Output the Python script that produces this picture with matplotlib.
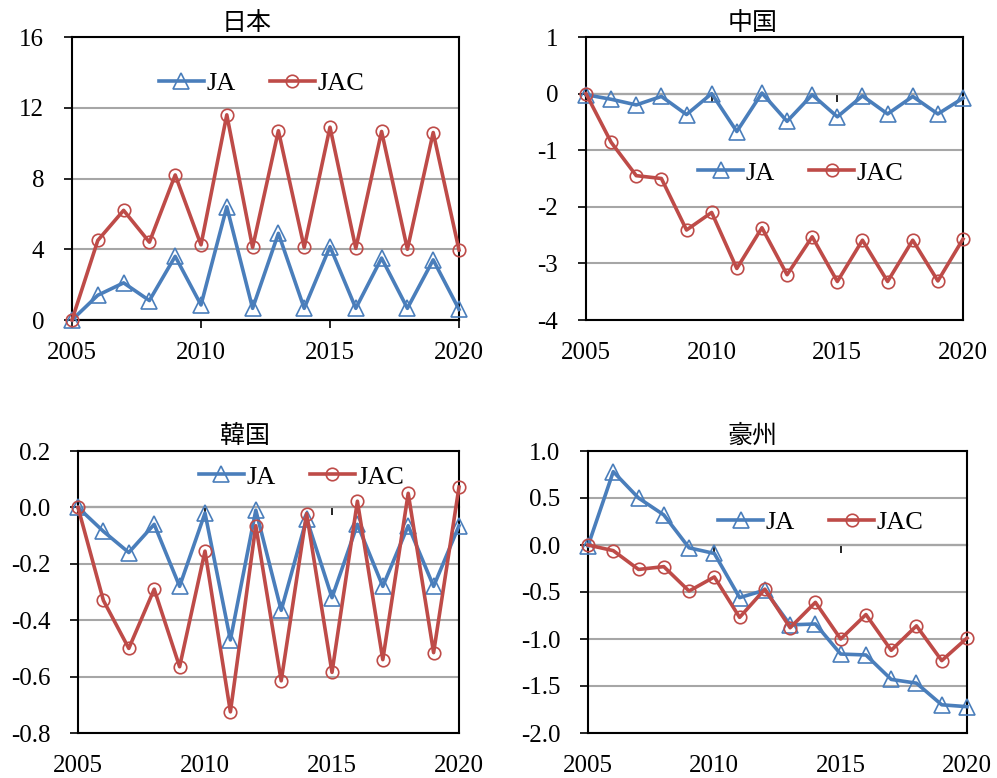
import matplotlib
matplotlib.use("Agg")
import matplotlib.pyplot as plt

plt.rcParams['font.family'] = ['Liberation Serif', 'Noto Sans CJK JP']

years = list(range(2005, 2021))

japan_ja = [0, 1.4, 2.1, 1.1, 3.6, 0.85, 6.4, 0.66, 4.9, 0.66, 4.15, 0.66, 3.5, 0.66, 3.4, 0.6]
japan_jac = [0, 4.5, 6.2, 4.4, 8.2, 4.25, 11.6, 4.1, 10.7, 4.1, 10.9, 4.05, 10.66, 4.0, 10.6, 3.96]

china_ja = [-0.02, -0.1, -0.2, -0.05, -0.37, 0.0, -0.67, 0.01, -0.49, -0.02, -0.41, -0.04, -0.36, -0.05, -0.36, -0.08]
china_jac = [0, -0.86, -1.45, -1.5, -2.41, -2.1, -3.09, -2.37, -3.2, -2.53, -3.32, -2.59, -3.32, -2.59, -3.31, -2.57]

korea_ja = [0, -0.085, -0.16, -0.06, -0.28, -0.02, -0.47, -0.01, -0.365, -0.04, -0.32, -0.06, -0.28, -0.065, -0.28, -0.065]
korea_jac = [0, -0.33, -0.5, -0.29, -0.565, -0.155, -0.725, -0.065, -0.615, -0.022, -0.585, 0.022, -0.54, 0.05, -0.515, 0.072]

aus_ja = [-0.01, 0.78, 0.5, 0.32, -0.03, -0.09, -0.56, -0.48, -0.85, -0.84, -1.16, -1.17, -1.43, -1.47, -1.7, -1.72]
aus_jac = [0, -0.06, -0.26, -0.23, -0.49, -0.34, -0.77, -0.47, -0.88, -0.61, -1.0, -0.74, -1.12, -0.86, -1.23, -0.99]

panels = [
    dict(title='日本', ja=japan_ja, jac=japan_jac, ylim=(0, 16), yticks=[0, 4, 8, 12, 16],
         fmt='{:.0f}', box=[72, 37, 459, 320], tx=247, ty=23, leg=(0.49, 0.837)),
    dict(title='中国', ja=china_ja, jac=china_jac, ylim=(-4, 1), yticks=[-4, -3, -2, -1, 0, 1],
         fmt='{:.0f}', box=[586, 37, 963, 320], tx=753, ty=23, leg=(0.57, 0.52)),
    dict(title='韓国', ja=korea_ja, jac=korea_jac, ylim=(-0.8, 0.2),
         yticks=[-0.8, -0.6, -0.4, -0.2, 0.0, 0.2],
         fmt='{:.1f}', box=[78, 451, 459, 733], tx=245, ty=436, leg=(0.587, 0.908)),
    dict(title='豪州', ja=aus_ja, jac=aus_jac, ylim=(-2.0, 1.0),
         yticks=[-2.0, -1.5, -1.0, -0.5, 0.0, 0.5, 1.0],
         fmt='{:.1f}', box=[588, 451, 967, 733], tx=752, ty=436, leg=(0.615, 0.748)),
]

W, H = 997, 778
fig = plt.figure(figsize=(W / 100, H / 100), dpi=100)

BLUE = '#4A7EBB'
RED = '#BE4B48'
xticks = [2005, 2010, 2015, 2020]

for p in panels:
    x0, y0, x1, y1 = p['box']
    ax = fig.add_axes([x0 / W, 1 - y1 / H, (x1 - x0) / W, (y1 - y0) / H])
    ax.set_xlim(2005, 2020)
    ax.set_ylim(*p['ylim'])
    ax.set_yticks(p['yticks'])
    ax.set_yticklabels([p['fmt'].format(v) for v in p['yticks']])
    ax.set_xticks(xticks)
    ax.set_xticklabels([str(v) for v in xticks])
    ax.grid(axis='y', color='#A6A6A6', linewidth=1.5)
    ax.set_axisbelow(True)
    for s in ax.spines.values():
        s.set_color('black')
        s.set_linewidth(1.5)
    ax.tick_params(axis='y', direction='out', length=6, width=1.2, pad=14, labelsize=18)
    ax.tick_params(axis='x', direction='out', length=0, pad=16, labelsize=18)

    # horizontal axis line crossing at zero, with its own tick marks
    sec = ax.secondary_xaxis(0, transform=ax.transData)
    sec.set_xticks(xticks)
    sec.tick_params(axis='x', direction='out', length=6, width=1.2, labelbottom=False)
    sec.spines['bottom'].set_linewidth(1.5)
    sec.spines['bottom'].set_color('black')

    ax.plot(years, p['ja'], color=BLUE, linewidth=2.6, marker='^', markersize=11,
            markerfacecolor='none', markeredgecolor=BLUE, markeredgewidth=1.2,
            label='JA', clip_on=False, zorder=3)
    ax.plot(years, p['jac'], color=RED, linewidth=2.6, marker='o', markersize=9,
            markerfacecolor='none', markeredgecolor=RED, markeredgewidth=1.2,
            label='JAC', clip_on=False, zorder=4)

    ax.legend(loc='center', bbox_to_anchor=p['leg'], ncol=2, frameon=False, fontsize=19,
              handlelength=1.7, handletextpad=0.1, columnspacing=1.3, borderpad=0)

    fig.text(p['tx'] / W, 1 - p['ty'] / H, p['title'], ha='center', va='center',
             fontsize=18, family=['Noto Sans CJK JP'])

fig.savefig('out.png', dpi=100)
